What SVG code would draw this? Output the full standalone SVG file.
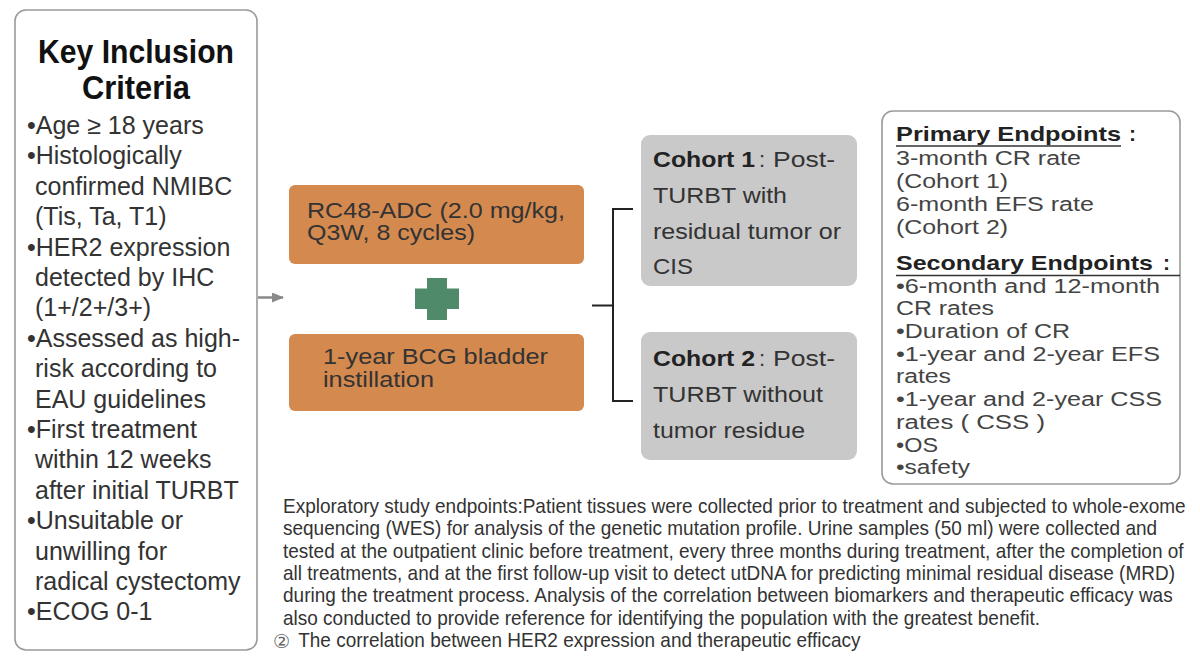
<svg xmlns="http://www.w3.org/2000/svg" width="1200" height="664" viewBox="0 0 1200 664">
<defs>
<marker id="ah" markerWidth="12" markerHeight="10" refX="11" refY="5" orient="auto" markerUnits="userSpaceOnUse">
<path d="M0,0 L12,5 L0,10 Z" fill="#8a8a8a"/>
</marker>
<style>
text{font-family:"Liberation Sans",Arial,sans-serif;}
.frame{fill:#fff;stroke:#9a9a9a;stroke-width:1.6;}
.title{font-size:33px;font-weight:bold;fill:#111;text-anchor:middle;}
.crit{font-size:25px;fill:#333;}
.orange{fill:#D4894F;}
.otext{font-size:21.5px;fill:#333;}
.gray{fill:#C9C9C9;}
.ctext{font-size:22px;fill:#333;}
.cbold{font-size:22px;fill:#222;font-weight:bold;}
.ep{font-size:20px;fill:#444;}
.eph{font-size:21px;fill:#222;font-weight:bold;}
.ex{font-size:20px;fill:#333;}
.conn{fill:none;stroke:#222;stroke-width:2;}
</style>
</defs>
<rect width="1200" height="664" fill="#fff"/>

<g id="criteria">
<rect class="frame" x="15" y="10" width="242" height="640" rx="11"/>
<text class="title" x="136" y="63" textLength="196" lengthAdjust="spacingAndGlyphs">Key Inclusion</text>
<text class="title" x="136" y="99" textLength="108" lengthAdjust="spacingAndGlyphs">Criteria</text>
<text class="crit" x="27" y="134">•Age ≥ 18 years</text>
<text class="crit" x="27" y="164.4">•Histologically</text>
<text class="crit" x="35" y="194.8">confirmed NMIBC</text>
<text class="crit" x="35" y="225.2">(Tis, Ta, T1)</text>
<text class="crit" x="27" y="255.6">•HER2 expression</text>
<text class="crit" x="35" y="286">detected by IHC</text>
<text class="crit" x="35" y="316.4">(1+/2+/3+)</text>
<text class="crit" x="27" y="346.8">•Assessed as high-</text>
<text class="crit" x="35" y="377.2">risk according to</text>
<text class="crit" x="35" y="407.6">EAU guidelines</text>
<text class="crit" x="27" y="438">•First treatment</text>
<text class="crit" x="35" y="468.4">within 12 weeks</text>
<text class="crit" x="35" y="498.8">after initial TURBT</text>
<text class="crit" x="27" y="529.2">•Unsuitable or</text>
<text class="crit" x="35" y="559.6">unwilling for</text>
<text class="crit" x="35" y="590">radical cystectomy</text>
<text class="crit" x="27" y="620.4">•ECOG 0-1</text>
</g>

<g id="rc48">
<rect class="orange" x="289" y="185" width="295" height="79" rx="6"/>
<text class="otext" x="307" y="218" textLength="258" lengthAdjust="spacingAndGlyphs">RC48-ADC (2.0 mg/kg,</text>
<text class="otext" x="307" y="240" textLength="168" lengthAdjust="spacingAndGlyphs">Q3W, 8 cycles)</text>
</g>

<g id="plus">
<path d="M427,278 H447 V288.5 H459 V309 H447 V320 H427 V309 H415 V288.5 H427 Z" fill="#4F8A6B"/>
</g>

<g id="bcg">
<rect class="orange" x="289" y="334" width="295" height="77" rx="6"/>
<text class="otext" x="323" y="364" textLength="225" lengthAdjust="spacingAndGlyphs">1-year BCG bladder</text>
<text class="otext" x="323" y="387" textLength="111" lengthAdjust="spacingAndGlyphs">instillation</text>
</g>

<g id="cohort1">
<rect class="gray" x="641" y="135" width="216" height="151" rx="9"/>
<text class="cbold" x="653" y="167" textLength="102" lengthAdjust="spacingAndGlyphs">Cohort 1</text>
<text class="ctext" x="759" y="167">:</text>
<text class="ctext" x="773" y="167" textLength="62" lengthAdjust="spacingAndGlyphs">Post-</text>
<text class="ctext" x="653" y="203" textLength="134" lengthAdjust="spacingAndGlyphs">TURBT with</text>
<text class="ctext" x="653" y="239" textLength="188" lengthAdjust="spacingAndGlyphs">residual tumor or</text>
<text class="ctext" x="653" y="274" textLength="40" lengthAdjust="spacingAndGlyphs">CIS</text>
</g>

<g id="cohort2">
<rect class="gray" x="641" y="332" width="216" height="128" rx="9"/>
<text class="cbold" x="653" y="366" textLength="102" lengthAdjust="spacingAndGlyphs">Cohort 2</text>
<text class="ctext" x="759" y="366">:</text>
<text class="ctext" x="773" y="366" textLength="62" lengthAdjust="spacingAndGlyphs">Post-</text>
<text class="ctext" x="653" y="402" textLength="170" lengthAdjust="spacingAndGlyphs">TURBT without</text>
<text class="ctext" x="653" y="438" textLength="152" lengthAdjust="spacingAndGlyphs">tumor residue</text>
</g>

<g id="endpoints">
<rect class="frame" x="882" y="111" width="298" height="373" rx="11"/>
<text class="eph" x="896" y="141" textLength="225" lengthAdjust="spacingAndGlyphs">Primary Endpoints</text>
<text class="eph" x="1129" y="141">:</text>
<line x1="896" y1="146" x2="1121" y2="146" stroke="#333" stroke-width="1.5"/>
<text class="ep" x="896" y="165" textLength="185" lengthAdjust="spacingAndGlyphs">3-month CR rate</text>
<text class="ep" x="896" y="188" textLength="112" lengthAdjust="spacingAndGlyphs">(Cohort 1)</text>
<text class="ep" x="896" y="211" textLength="198" lengthAdjust="spacingAndGlyphs">6-month EFS rate</text>
<text class="ep" x="896" y="234" textLength="112" lengthAdjust="spacingAndGlyphs">(Cohort 2)</text>
<text class="eph" x="896" y="270" textLength="257" lengthAdjust="spacingAndGlyphs">Secondary Endpoints</text>
<text class="eph" x="1163" y="270">:</text>
<line x1="896" y1="275.5" x2="1180" y2="275.5" stroke="#333" stroke-width="1.5"/>
<text class="ep" x="896" y="293" textLength="264" lengthAdjust="spacingAndGlyphs">•6-month and 12-month</text>
<text class="ep" x="896" y="315" textLength="98" lengthAdjust="spacingAndGlyphs">CR rates</text>
<text class="ep" x="896" y="338" textLength="174" lengthAdjust="spacingAndGlyphs">•Duration of CR</text>
<text class="ep" x="896" y="361" textLength="264" lengthAdjust="spacingAndGlyphs">•1-year and 2-year EFS</text>
<text class="ep" x="896" y="383" textLength="55" lengthAdjust="spacingAndGlyphs">rates</text>
<text class="ep" x="896" y="406" textLength="266" lengthAdjust="spacingAndGlyphs">•1-year and 2-year CSS</text>
<text class="ep" x="896" y="429" textLength="149" lengthAdjust="spacingAndGlyphs">rates ( CSS )</text>
<text class="ep" x="896" y="452" textLength="42" lengthAdjust="spacingAndGlyphs">•OS</text>
<text class="ep" x="896" y="474" textLength="74" lengthAdjust="spacingAndGlyphs">•safety</text>
</g>

<g id="exploratory">
<g transform="translate(283,0) scale(0.95,1)">
<text class="ex" x="0" y="513">Exploratory study endpoints:Patient tissues were collected prior to treatment and subjected to whole-exome</text>
<text class="ex" x="0" y="535.5">sequencing (WES) for analysis of the genetic mutation profile. Urine samples (50 ml) were collected and</text>
<text class="ex" x="0" y="558">tested at the outpatient clinic before treatment, every three months during treatment, after the completion of</text>
<text class="ex" x="0" y="580">all treatments, and at the first follow-up visit to detect utDNA for predicting minimal residual disease (MRD)</text>
<text class="ex" x="0" y="602.5">during the treatment process. Analysis of the correlation between biomarkers and therapeutic efficacy was</text>
<text class="ex" x="0" y="625">also conducted to provide reference for identifying the population with the greatest benefit.</text>
<text class="ex" x="16" y="647">The correlation between HER2 expression and therapeutic efficacy</text>
</g>
<text x="273" y="648" style="font-family:'DejaVu Sans',sans-serif;font-size:19px;fill:#666">②</text>
</g>

<g id="connectors">
<line x1="258" y1="297.5" x2="283" y2="297.5" stroke="#8a8a8a" stroke-width="2.5" marker-end="url(#ah)"/>
<line class="conn" x1="592" y1="305.5" x2="613" y2="305.5"/>
<path class="conn" d="M633,209 H613 V401 H633"/>
</g>
</svg>
